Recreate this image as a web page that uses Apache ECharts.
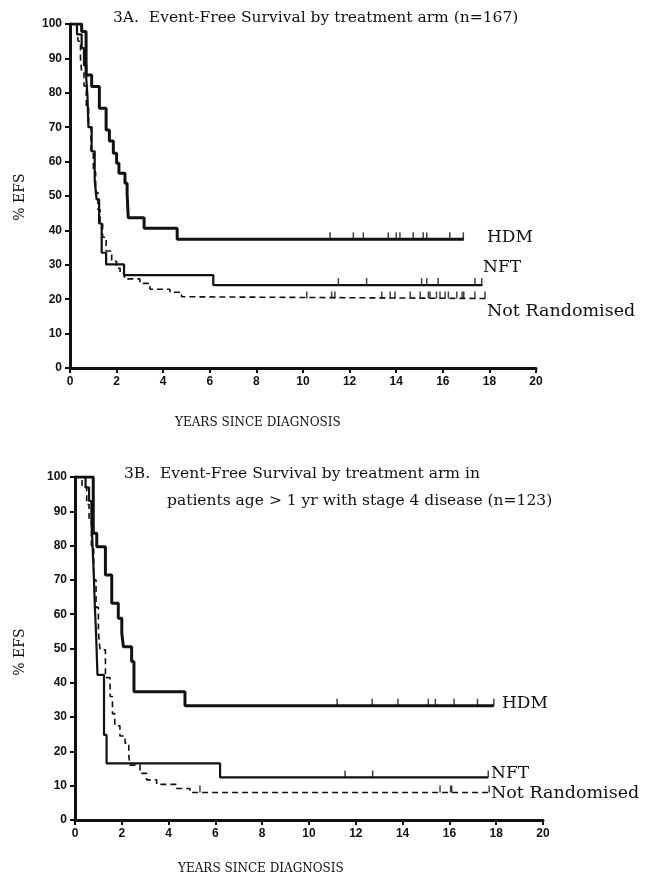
<!DOCTYPE html>
<html>
<head>
<meta charset="utf-8">
<script src="https://cdn.jsdelivr.net/npm/echarts@6/dist/echarts.min.js"></script>
<style>
  html, body { margin: 0; padding: 0; background: #fff; }
  #main { width: 651px; height: 882px; }
</style>
</head>
<body>
<div id="main"></div>
<script>
// step points [years, %EFS]
var hdmA = [[0,100],[0.5,97.8],[0.69,85.2],[0.93,81.8],[1.26,75.5],[1.55,69.2],[1.69,66],[1.86,62.4],[2.0,59.5],[2.1,56.6],[2.36,53.7],[2.45,50.8],[2.5,43.7],[3.18,40.6],[4.6,37.4],[16.9,37.4]];
var nftA = [[0,100],[0.3,97],[0.5,93],[0.6,88],[0.7,84],[0.75,79],[0.79,70],[0.93,63],[1.06,54.7],[1.14,49],[1.25,42],[1.36,33.5],[1.55,30.1],[2.32,27],[6.15,24.1],[17.7,24.1]];
var nrA = [[0,100],[0.3,98],[0.35,95],[0.45,90],[0.5,86],[0.6,82],[0.7,76],[0.8,70],[0.9,63],[1.0,57],[1.1,51],[1.2,46],[1.29,42],[1.4,38],[1.55,34],[1.79,31],[2.0,29],[2.15,27.5],[2.32,26.5],[2.43,25.9],[3.0,24.6],[3.43,22.9],[4.29,22],[4.79,20.7],[5.15,20.2],[17.9,20.2]];

var hdmB = [[0,100],[0.78,83.6],[0.93,79.7],[1.3,71.4],[1.57,63.2],[1.85,58.8],[2.0,54.4],[2.07,50.5],[2.42,46.2],[2.52,37.4],[4.7,33.3],[17.9,33.3]];
var nftB = [[0,100],[0.45,97],[0.6,93],[0.7,88],[0.75,80],[0.8,72],[0.85,62],[0.9,54.4],[0.96,42.3],[1.24,24.8],[1.35,16.5],[6.2,12.4],[17.66,12.4]];
var nrB = [[0,100],[0.3,97],[0.5,92],[0.6,88],[0.7,80],[0.8,70],[0.9,62],[1.0,55],[1.07,49.6],[1.3,41.5],[1.5,36],[1.6,31],[1.7,27.5],[1.92,24.5],[2.14,22.4],[2.3,18.5],[2.35,16],[2.78,13.6],[3.06,11.7],[3.49,10.4],[4.35,9.2],[4.91,8],[17.7,8]];

// censored times (tick marks)
var hdmCensA = [11.16,12.16,12.59,13.66,14.0,14.16,14.73,15.16,15.31,16.3,16.88];
var nftCensA = [11.52,12.73,15.09,15.31,15.8,17.38,17.67];
var nrCensA = [10.16,11.23,11.37,13.38,13.74,13.95,14.6,15.03,15.38,15.45,15.73,15.88,16.1,16.24,16.6,16.83,16.9,17.38,17.81];
var hdmCensB = [11.2,12.7,13.8,15.1,15.4,16.2,17.2,17.9];
var nftCensB = [11.54,12.72,17.66];
var nrCensB = [5.34,15.6,16.05,16.1,17.7];

var serif = '"DejaVu Serif", "Liberation Serif", serif';
var sans = '"Liberation Sans", Arial, sans-serif';

function valueAt(curve, t){
    var v = curve[0][1];
    for (var i = 0; i < curve.length; i++) {
        if (curve[i][0] <= t) v = curve[i][1];
    }
    return v;
}

function censorData(curve, times){
    return times.map(function(t){ return [t, valueAt(curve, t)]; });
}

function kmSeries(name, data, idx, width, dashed){
    return {
        name: name,
        type: 'line',
        step: 'end',
        xAxisIndex: idx,
        yAxisIndex: idx,
        data: data,
        showSymbol: false,
        lineStyle: { color: '#111', width: width, type: dashed ? [6, 4] : 'solid' },
        z: 3
    };
}

function censorSeries(data, idx){
    return {
        type: 'scatter',
        xAxisIndex: idx,
        yAxisIndex: idx,
        data: data,
        symbol: 'rect',
        symbolSize: [1.5, 7],
        symbolOffset: [0, -3.5],
        itemStyle: { color: '#111' },
        z: 4
    };
}

function xAxisCfg(idx){
    return {
        type: 'value',
        gridIndex: idx,
        min: 0, max: 20, interval: 2,
        axisLine: { onZero: false, lineStyle: { color: '#111', width: 3 } },
        axisTick: { length: 5, lineStyle: { color: '#111', width: 2 } },
        axisLabel: { color: '#111', fontFamily: sans, fontSize: 12, fontWeight: 'bold', margin: 8 },
        splitLine: { show: false }
    };
}

function yAxisCfg(idx){
    return {
        type: 'value',
        gridIndex: idx,
        min: 0, max: 100, interval: 10,
        axisLine: { onZero: false, lineStyle: { color: '#111', width: 3 } },
        axisTick: { length: 5, lineStyle: { color: '#111', width: 2 } },
        axisLabel: { color: '#111', fontFamily: sans, fontSize: 12, fontWeight: 'bold', margin: 8 },
        splitLine: { show: false }
    };
}

function txt(s, x, y, size, font){
    return {
        type: 'text', x: x, y: y,
        style: { text: s, font: size + 'px ' + font, fill: '#111', verticalAlign: 'middle' }
    };
}

function vtxt(s, x, y, size, font){
    return {
        type: 'text', x: x, y: y, rotation: Math.PI / 2,
        style: { text: s, font: size + 'px ' + font, fill: '#111', align: 'center', verticalAlign: 'middle' }
    };
}

var myChart = echarts.init(document.getElementById('main'));

var option = {
    backgroundColor: '#fff',
    animation: false,
    grid: [
        { left: 70, right: 115, top: 24, height: 344 },
        { left: 75, right: 108, top: 477, height: 343 }
    ],
    xAxis: [xAxisCfg(0), xAxisCfg(1)],
    yAxis: [yAxisCfg(0), yAxisCfg(1)],
    graphic: [
        txt('3A.  Event-Free Survival by treatment arm (n=167)', 113, 18, 15.5, serif),
        vtxt('% EFS', 20, 197, 14, serif),
        txt('HDM', 487, 238, 17, serif),
        txt('NFT', 483, 268, 17, serif),
        txt('Not Randomised', 487, 311, 17.5, serif),
        txt('YEARS SINCE DIAGNOSIS', 175, 423, 12, serif),
        txt('3B.  Event-Free Survival by treatment arm in', 124, 474, 15.5, serif),
        txt('patients age > 1 yr with stage 4 disease (n=123)', 167, 501, 15.5, serif),
        vtxt('% EFS', 20, 652, 14, serif),
        txt('HDM', 502, 704, 17, serif),
        txt('NFT', 491, 774, 17, serif),
        txt('Not Randomised', 491, 793, 17.5, serif),
        txt('YEARS SINCE DIAGNOSIS', 178, 869, 12, serif)
    ],
    series: [
        kmSeries('HDM', hdmA, 0, 3, false),
        kmSeries('NFT', nftA, 0, 2.2, false),
        kmSeries('Not Randomised', nrA, 0, 1.6, true),
        censorSeries(censorData(hdmA, hdmCensA), 0),
        censorSeries(censorData(nftA, nftCensA), 0),
        censorSeries(censorData(nrA, nrCensA), 0),
        kmSeries('HDM', hdmB, 1, 3, false),
        kmSeries('NFT', nftB, 1, 2.2, false),
        kmSeries('Not Randomised', nrB, 1, 1.6, true),
        censorSeries(censorData(hdmB, hdmCensB), 1),
        censorSeries(censorData(nftB, nftCensB), 1),
        censorSeries(censorData(nrB, nrCensB), 1)
    ]
};

myChart.setOption(option);
</script>
</body>
</html>
